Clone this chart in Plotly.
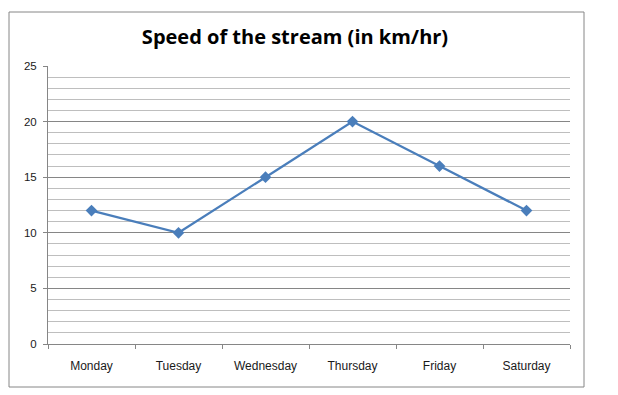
import plotly.graph_objects as go

days = ["Monday", "Tuesday", "Wednesday", "Thursday", "Friday", "Saturday"]
speed = [12, 10, 15, 20, 16, 12]
y_ticks = [0, 5, 10, 15, 20, 25]

# page body has an 8px margin, so figure coordinates = reference - 8
OFF = 8
L, R, T, B = 48 - OFF, 570 - OFF, 66 - OFF, 344 - OFF
W, H = 618 - OFF, 395 - OFF
pw, ph = R - L, B - T

def px(x):
    return (x - OFF - L) / pw

def py(y):
    return (B - (y - OFF)) / ph

fig = go.Figure()
fig.add_trace(go.Scatter(
    x=days, y=speed, mode="lines+markers",
    line=dict(color="#4A7EBB", width=2.25),
    marker=dict(symbol="diamond", size=9, color="#4A7EBB"),
    showlegend=False, cliponaxis=False,
))

fig.update_layout(
    width=W, height=H,
    margin=dict(l=L, r=W - R, t=T, b=H - B),
    paper_bgcolor="white", plot_bgcolor="white",
    font=dict(family="Liberation Sans, Arial, sans-serif", size=11, color="#1a1a1a"),
    title=dict(
        text="<b>Speed of the stream (in km/hr)</b>",
        x=(295 - OFF) / W, xanchor="center",
        y=1 - (37 - OFF) / H, yanchor="middle",
        font=dict(family="Open Sans, sans-serif", size=20, color="black"),
    ),
    xaxis=dict(
        type="category", tickson="boundaries", ticks="outside", ticklen=4,
        tickcolor="#868686", showline=True, linecolor="#868686", linewidth=1,
        showgrid=False, zeroline=False, range=[-0.5, 5.5],
        tickfont=dict(size=12), ticklabelstandoff=11,
    ),
    yaxis=dict(
        range=[0, 25], tickvals=y_ticks, ticks="outside", ticklen=4,
        tickcolor="#868686", showline=True, linecolor="#868686", linewidth=1,
        showgrid=True, gridcolor="#868686", gridwidth=1, zeroline=False,
        minor=dict(dtick=1, showgrid=True, gridcolor="#BEBEBE", gridwidth=1),
        tickfont=dict(size=11.5), ticklabelstandoff=4,
    ),
    shapes=[dict(
        type="rect", xref="paper", yref="paper",
        x0=px(9), x1=px(584), y0=py(387), y1=py(12),
        line=dict(color="#868686", width=1), layer="below",
    )],
)

fig.write_html("out.html")
